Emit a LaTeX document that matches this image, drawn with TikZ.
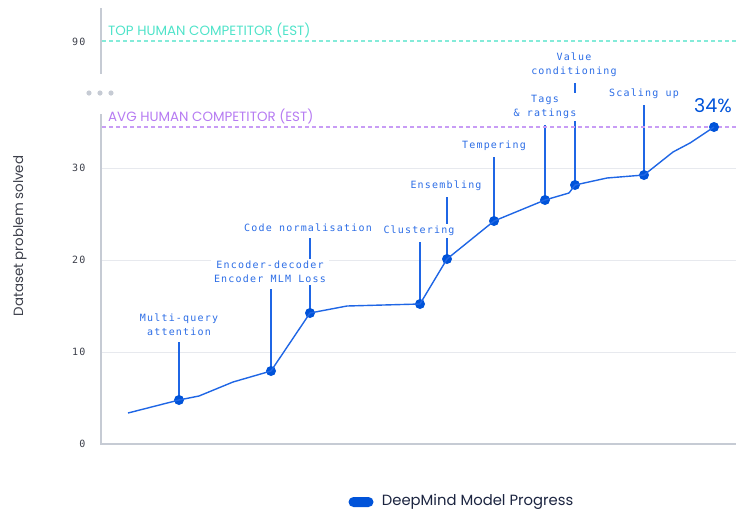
\documentclass[tikz,border=0pt]{standalone}
\usepackage{fontspec}
\setsansfont{Poppins}
\newfontfamily\labelmono{DejaVu Sans Mono}[LetterSpace=12]
\usetikzlibrary{backgrounds,positioning}
\definecolor{progblue}{HTML}{0053D9}
\definecolor{lineblue}{HTML}{1F66E5}
\definecolor{txtblue}{HTML}{2C6DE6}
\definecolor{axisgray}{HTML}{C6CBD4}
\definecolor{gridgray}{HTML}{E7E9EE}
\definecolor{tickgray}{HTML}{3C3F4A}
\definecolor{topteal}{HTML}{4FE3C9}
\definecolor{avgpurple}{HTML}{B67BF2}
\definecolor{navy}{HTML}{1B2440}
\begin{document}
\begin{tikzpicture}[x=1pt,y=-1pt,
  axisline/.style={draw=axisgray,line width=1.5pt},
  gridline/.style={draw=gridgray,line width=1pt},
  ticklabel/.style={anchor=east,text=tickgray,font=\labelmono\fontsize{10}{12}\selectfont},
  refline/.style={dash pattern=on 4pt off 3pt,line width=1.2pt},
  reflabel/.style={anchor=west,inner sep=0pt,font=\sffamily\fontsize{13.4}{15}\selectfont},
  progdot/.style={circle,fill=progblue,inner sep=0pt,minimum size=10pt},
  progline/.style={draw=lineblue,line width=1.4pt,line join=round},
  milestone/.style={fill=white,text=txtblue,align=center,inner xsep=3pt,inner ysep=2.5pt,
    font=\labelmono\fontsize{10}{14}\selectfont},
  leader/.style={draw=lineblue,line width=1.3pt,shorten <=3.5pt}]
\useasboundingbox (0,0) rectangle (736,512);

\begin{scope}[on background layer]
  \foreach \y in {168,260,352}
    \draw[gridline] (101,\y) -- (736,\y);
\end{scope}

\draw[axisline] (101,8) -- (101,74);
\draw[axisline] (101,114) -- (101,444) -- (736,444);
\foreach \x in {89,100,111}
  \fill[axisgray] (\x,93) circle (2.6pt);

\foreach \v/\y in {90/42,30/168,20/260,10/352,0/444}
  \node[ticklabel] at (89,\y) {\v};

\node[rotate=90,text=tickgray,font=\sffamily\fontsize{13.4}{15}\selectfont] (ylabel) at (20,236) {Dataset problem solved};

\draw[refline,color=topteal!70] (102,41) -- (736,41);
\node[reflabel,text=topteal] (toptxt) at (108,30) {TOP HUMAN COMPETITOR (EST)};
\draw[refline,color=avgpurple!75] (102,127) -- (736,127);
\node[reflabel,text=avgpurple] (avgtxt) at (108,116) {AVG HUMAN COMPETITOR (EST)};

\foreach \n/\x/\y in {mq/179/400,ed/271/371,cn/310/313,cl/420/304,en/447/259,
    te/494/221,tr/545/200,vc/575/185,su/644/175,final/714/127}
  \node[progdot] (\n) at (\x,\y) {};

\draw[progline] (128,413) -- (mq.center) -- (199,396) -- (233,382) -- (ed.center)
  -- (cn.center) -- (347,306) -- (cl.center) -- (en.center) -- (te.center)
  -- (tr.center) -- (569,193) -- (vc.center) -- (607,178) -- (su.center)
  -- (673,152) -- (690,143) -- (final.center);

\node[milestone] (mqtxt) at (179,325) {Multi-query\\attention};
\node[milestone] (edtxt) at (270,272) {Encoder-decoder\\Encoder MLM Loss};
\node[milestone] (cntxt) at (308,228) {Code normalisation};
\node[milestone] (cltxt) at (419,231) {Clustering};
\node[milestone] (entxt) at (446,186) {Ensembling};
\node[milestone] (tetxt) at (494,146) {Tempering};
\node[milestone] (trtxt) at (545,107) {Tags\\\& ratings};
\node[milestone] (vctxt) at (574,65) {Value\\conditioning};
\node[milestone] (sutxt) at (644,94) {Scaling up};
\node[text=progblue,font=\sffamily\fontsize{19}{21}\selectfont] (pct) at (713,106) {34\%};

\begin{scope}[on background layer]
  \foreach \n in {mq,ed,cn,cl,en,te,tr,vc,su}
    \draw[leader] (\n txt.south -| \n) -- (\n.center);
\end{scope}

\node[fill=progblue,rounded corners=5pt,minimum width=25pt,minimum height=10pt,inner sep=0pt] (key) at (361,502) {};
\node[right=8pt of key,inner xsep=0pt,text=navy,font=\sffamily\fontsize{14.8}{17}\selectfont] (keytxt) {DeepMind Model Progress};
\end{tikzpicture}
\end{document}
